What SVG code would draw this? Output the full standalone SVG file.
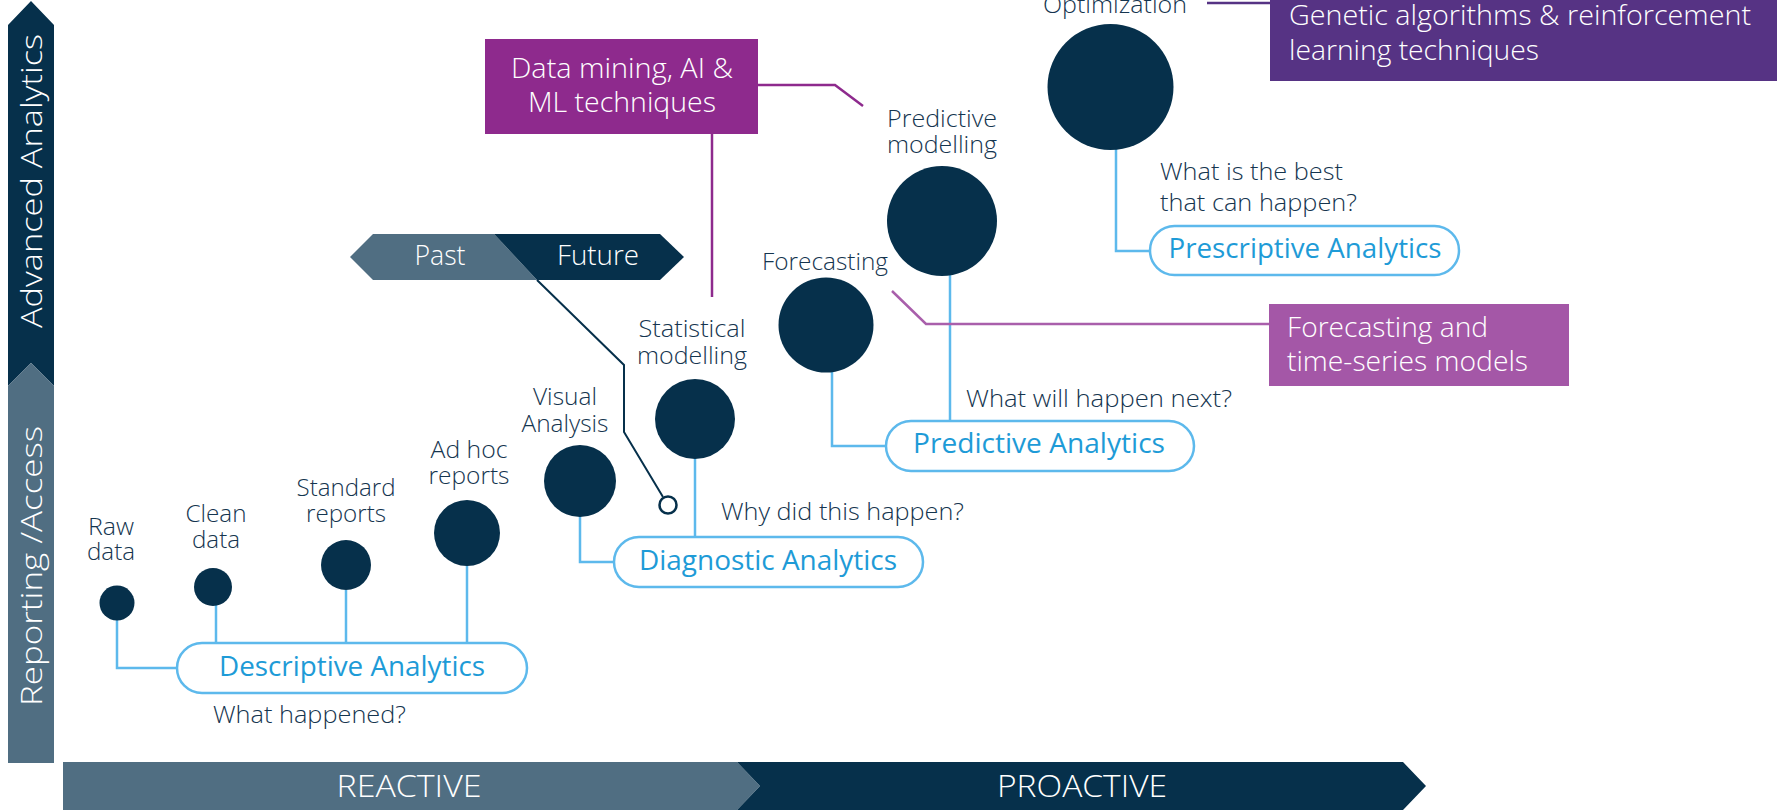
<svg xmlns="http://www.w3.org/2000/svg" width="1777" height="810" viewBox="0 0 1777 810">
<defs>
<style>
text{font-family:"Open Sans","Liberation Sans",sans-serif;font-weight:300}
.lbl{fill:#15354F;font-size:24px}
.ctr{text-anchor:middle}
.pill{fill:#fff;stroke:#5DB9EC;stroke-width:2.5}
.pt{fill:#1E9BD7;font-size:27px;text-anchor:middle;font-weight:400}
.dot{fill:#06304B}
.wt{fill:#fff;font-size:27px}
.blue{fill:none;stroke:#5DB9EC;stroke-width:2.5}
.navy{fill:none;stroke:#06304B;stroke-width:2}
</style>
</defs>
<rect width="1777" height="810" fill="#fff"/>

<g id="axis-vertical">
<polygon points="8,25 31,1 54,25 54,386 31,363 8,386" fill="#06304B"/>
<polygon points="8,386 31,363 54,386 54,763 8,763" fill="#506E82"/>
<text class="wt ctr" transform="translate(42,181) rotate(-90)" textLength="294" lengthAdjust="spacingAndGlyphs" style="font-size:29px">Advanced Analytics</text>
<text class="wt ctr" transform="translate(42,566) rotate(-90)" textLength="280" lengthAdjust="spacingAndGlyphs" style="font-size:29px">Reporting /Access</text>
</g>

<g id="axis-horizontal">
<polygon points="63,762 737,762 760,786 737,810 63,810" fill="#506E82"/>
<polygon points="737,762 1403,762 1426,786 1403,810 737,810 760,786" fill="#06304B"/>
<text class="wt ctr" x="409" y="797" textLength="145" lengthAdjust="spacingAndGlyphs" style="font-size:31px">REACTIVE</text>
<text class="wt ctr" x="1082" y="797" textLength="170" lengthAdjust="spacingAndGlyphs" style="font-size:31px">PROACTIVE</text>
</g>

<g id="connectors">
<polyline class="blue" points="117,620 117,668 177,668"/>
<line class="blue" x1="216" y1="605" x2="216" y2="643"/>
<line class="blue" x1="346" y1="590" x2="346" y2="643"/>
<line class="blue" x1="467" y1="565" x2="467" y2="643"/>
<polyline class="blue" points="580,516 580,562 614,562"/>
<line class="blue" x1="695" y1="458" x2="695" y2="537"/>
<polyline class="blue" points="832,372 832,446 886,446"/>
<line class="blue" x1="950" y1="275" x2="950" y2="421"/>
<polyline class="blue" points="1116,149 1116,251 1150,251"/>
<polyline fill="none" stroke="#8E2A8D" stroke-width="2.5" points="757,85 835,85 863,106"/>
<line stroke="#8E2A8D" stroke-width="2.5" x1="712" y1="134" x2="712" y2="297"/>
<polyline fill="none" stroke="#A95FAB" stroke-width="2.5" points="892,291 926,324 1269,324"/>
<line stroke="#563384" stroke-width="2.5" x1="1207" y1="3" x2="1270" y2="3"/>
<polyline class="navy" points="537,280 624,365 624,432 663,497"/>
<circle cx="668" cy="505" r="8.5" fill="#fff" stroke="#06304B" stroke-width="2.5"/>
</g>

<g id="past-future">
<polygon points="350,257 373,234 494,234 537,280 373,280" fill="#506E82"/>
<polygon points="494,234 660,234 684,257 660,280 537,280" fill="#06304B"/>
<text class="wt ctr" x="440" y="265" textLength="51" lengthAdjust="spacingAndGlyphs">Past</text>
<text class="wt ctr" x="598" y="265" textLength="82" lengthAdjust="spacingAndGlyphs">Future</text>
</g>

<g id="raw-data">
<circle class="dot" cx="117" cy="603" r="17.5"/>
<text class="lbl ctr" x="111" y="535" textLength="46" lengthAdjust="spacingAndGlyphs">Raw</text>
<text class="lbl ctr" x="111" y="560" textLength="48" lengthAdjust="spacingAndGlyphs">data</text>
</g>
<g id="clean-data">
<circle class="dot" cx="213" cy="587" r="19"/>
<text class="lbl ctr" x="216" y="522" textLength="61" lengthAdjust="spacingAndGlyphs">Clean</text>
<text class="lbl ctr" x="216" y="548" textLength="48" lengthAdjust="spacingAndGlyphs">data</text>
</g>
<g id="standard-reports">
<circle class="dot" cx="346" cy="565" r="25"/>
<text class="lbl ctr" x="346" y="496" textLength="99" lengthAdjust="spacingAndGlyphs">Standard</text>
<text class="lbl ctr" x="346" y="522" textLength="80" lengthAdjust="spacingAndGlyphs">reports</text>
</g>
<g id="adhoc-reports">
<circle class="dot" cx="467" cy="533" r="33"/>
<text class="lbl ctr" x="469" y="458" textLength="77" lengthAdjust="spacingAndGlyphs">Ad hoc</text>
<text class="lbl ctr" x="469" y="484" textLength="81" lengthAdjust="spacingAndGlyphs">reports</text>
</g>
<g id="visual-analysis">
<circle class="dot" cx="580" cy="481" r="36"/>
<text class="lbl ctr" x="565" y="405" textLength="64" lengthAdjust="spacingAndGlyphs">Visual</text>
<text class="lbl ctr" x="565" y="432" textLength="87" lengthAdjust="spacingAndGlyphs">Analysis</text>
</g>
<g id="statistical-modelling">
<circle class="dot" cx="695" cy="419" r="40"/>
<text class="lbl ctr" x="692" y="337" textLength="107" lengthAdjust="spacingAndGlyphs">Statistical</text>
<text class="lbl ctr" x="692" y="364" textLength="110" lengthAdjust="spacingAndGlyphs">modelling</text>
</g>
<g id="forecasting">
<circle class="dot" cx="826" cy="325" r="47.5"/>
<text class="lbl ctr" x="825" y="270" textLength="126" lengthAdjust="spacingAndGlyphs">Forecasting</text>
</g>
<g id="predictive-modelling">
<circle class="dot" cx="942" cy="221" r="55"/>
<text class="lbl ctr" x="942" y="127" textLength="110" lengthAdjust="spacingAndGlyphs">Predictive</text>
<text class="lbl ctr" x="942" y="153" textLength="110" lengthAdjust="spacingAndGlyphs">modelling</text>
</g>
<g id="optimization">
<circle class="dot" cx="1110.5" cy="87" r="63"/>
<text class="lbl ctr" x="1115" y="13" textLength="144" lengthAdjust="spacingAndGlyphs">Optimization</text>
</g>

<g id="descriptive-analytics">
<rect class="pill" x="177" y="643" width="350" height="50" rx="25"/>
<text class="pt" x="352" y="676" textLength="266" lengthAdjust="spacingAndGlyphs">Descriptive Analytics</text>
<text class="lbl ctr" x="309.5" y="723" textLength="193" lengthAdjust="spacingAndGlyphs">What happened?</text>
</g>
<g id="diagnostic-analytics">
<rect class="pill" x="614" y="537" width="309" height="50" rx="25"/>
<text class="pt" x="768" y="570" textLength="258" lengthAdjust="spacingAndGlyphs">Diagnostic Analytics</text>
<text class="lbl ctr" x="842.5" y="520" textLength="243" lengthAdjust="spacingAndGlyphs">Why did this happen?</text>
</g>
<g id="predictive-analytics">
<rect class="pill" x="886" y="421" width="308" height="50" rx="25"/>
<text class="pt" x="1039" y="453" textLength="252" lengthAdjust="spacingAndGlyphs">Predictive Analytics</text>
<text class="lbl ctr" x="1099" y="407" textLength="266" lengthAdjust="spacingAndGlyphs">What will happen next?</text>
</g>
<g id="prescriptive-analytics">
<rect class="pill" x="1150" y="226" width="309" height="49" rx="24.5"/>
<text class="pt" x="1305" y="258" textLength="273" lengthAdjust="spacingAndGlyphs">Prescriptive Analytics</text>
<text class="lbl" x="1160" y="180" textLength="183" lengthAdjust="spacingAndGlyphs">What is the best</text>
<text class="lbl" x="1160" y="211" textLength="197" lengthAdjust="spacingAndGlyphs">that can happen?</text>
</g>

<g id="data-mining-box">
<rect x="485" y="39" width="273" height="95" fill="#8E2A8D"/>
<text class="wt ctr" x="622" y="78" textLength="222" lengthAdjust="spacingAndGlyphs">Data mining, AI &amp;</text>
<text class="wt ctr" x="622" y="112" textLength="188" lengthAdjust="spacingAndGlyphs">ML techniques</text>
</g>
<g id="forecasting-box">
<rect x="1269" y="304" width="300" height="82" fill="#A457A7"/>
<text class="wt" x="1287" y="337" textLength="201" lengthAdjust="spacingAndGlyphs">Forecasting and</text>
<text class="wt" x="1287" y="371" textLength="241" lengthAdjust="spacingAndGlyphs">time-series models</text>
</g>
<g id="genetic-box">
<rect x="1270" y="0" width="507" height="81" fill="#563384"/>
<text class="wt" x="1289" y="25" textLength="462" lengthAdjust="spacingAndGlyphs">Genetic algorithms &amp; reinforcement</text>
<text class="wt" x="1289" y="60" textLength="250" lengthAdjust="spacingAndGlyphs">learning techniques</text>
</g>
</svg>
